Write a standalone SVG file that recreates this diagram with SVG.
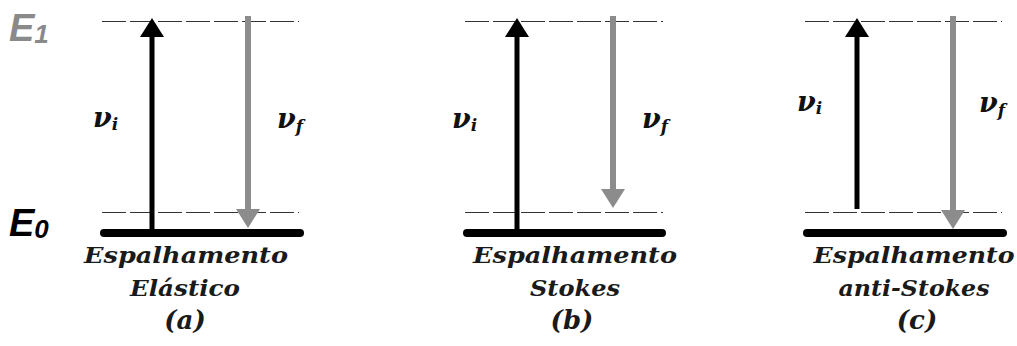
<svg xmlns="http://www.w3.org/2000/svg" width="1017" height="346" viewBox="0 0 1017 346">
<style>
.lvl{stroke:#333;stroke-width:1;stroke-dasharray:24 4;fill:none}
.bar{stroke:#000;stroke-width:8;stroke-linecap:round;fill:none}
.up{stroke:#000;stroke-width:5;fill:none}
.dn{stroke:#8c8c8c;stroke-width:6;fill:none}
.nu{font-family:"DejaVu Serif",serif;font-style:italic;font-weight:bold;font-size:27px;fill:#111}
.sub{font-size:17px}
.cap{font-family:"DejaVu Serif",serif;font-style:italic;font-weight:bold;font-size:22px;fill:#1a1a1a;text-anchor:middle}
.par{font-size:26px}
.en{font-family:"Liberation Sans",sans-serif;font-style:italic;font-weight:bold;font-size:38px}
</style>
<defs>
<marker id="hb" markerUnits="userSpaceOnUse" markerWidth="20" markerHeight="24" refX="0" refY="12" orient="auto" viewBox="0 0 20 24"><path d="M0,0 L19,12 L0,24 z" fill="#000"/></marker>
<marker id="hg" markerUnits="userSpaceOnUse" markerWidth="20" markerHeight="24" refX="0" refY="12" orient="auto" viewBox="0 0 20 24"><path d="M0,0 L19,12 L0,24 z" fill="#8c8c8c"/></marker>
</defs>
<rect width="1017" height="346" fill="#fff"/>
<g id="energy-labels">
<text class="en" x="9" y="41" fill="#8a8a8a">E<tspan font-size="26" dy="2">1</tspan></text>
<text class="en" x="9" y="236" fill="#000">E<tspan font-size="26" dy="2">0</tspan></text>
</g>
<g id="panel-a">
<line class="lvl" x1="102" y1="21.5" x2="299" y2="21.5"/>
<line class="lvl" x1="102" y1="212.5" x2="299" y2="212.5"/>
<line class="bar" x1="104" y1="233" x2="300" y2="233"/>
<text class="nu" x="93" y="127">ν<tspan class="sub" dy="3">i</tspan></text>
<text class="nu" x="277" y="128">ν<tspan class="sub" dy="4">f</tspan></text>
<text class="cap" x="186" y="263" textLength="204" lengthAdjust="spacingAndGlyphs">Espalhamento</text>
<text class="cap" x="185" y="296" textLength="110" lengthAdjust="spacingAndGlyphs">Elástico</text>
<text class="cap par" x="185" y="329">(a)</text>
</g>
<g id="panel-b">
<line class="lvl" x1="465" y1="21.5" x2="663" y2="21.5"/>
<line class="lvl" x1="465" y1="212.5" x2="663" y2="212.5"/>
<line class="bar" x1="467" y1="233" x2="662" y2="233"/>
<text class="nu" x="452" y="128">ν<tspan class="sub" dy="3">i</tspan></text>
<text class="nu" x="642" y="128">ν<tspan class="sub" dy="4">f</tspan></text>
<text class="cap" x="575" y="263" textLength="204" lengthAdjust="spacingAndGlyphs">Espalhamento</text>
<text class="cap" x="575" y="296" textLength="90" lengthAdjust="spacingAndGlyphs">Stokes</text>
<text class="cap par" x="572" y="329">(b)</text>
</g>
<g id="panel-c">
<line class="lvl" x1="805" y1="21.5" x2="1002" y2="21.5"/>
<line class="lvl" x1="805" y1="212.5" x2="1002" y2="212.5"/>
<line class="bar" x1="807" y1="233" x2="1003" y2="233"/>
<text class="nu" x="797" y="111">ν<tspan class="sub" dy="3">i</tspan></text>
<text class="nu" x="979" y="112">ν<tspan class="sub" dy="4">f</tspan></text>
<text class="cap" x="914" y="263" textLength="201" lengthAdjust="spacingAndGlyphs">Espalhamento</text>
<text class="cap" x="914" y="296" textLength="151" lengthAdjust="spacingAndGlyphs">anti-Stokes</text>
<text class="cap par" x="917" y="329">(c)</text>
</g>
<g id="connectors">
<line class="up" x1="152" y1="233" x2="152" y2="37" marker-end="url(#hb)"/>
<line class="dn" x1="248" y1="16" x2="248" y2="209" marker-end="url(#hg)"/>
<line class="up" x1="517" y1="233" x2="517" y2="37" marker-end="url(#hb)"/>
<line class="dn" x1="613" y1="16" x2="613" y2="189" marker-end="url(#hg)"/>
<line class="up" x1="857" y1="209" x2="857" y2="37" marker-end="url(#hb)"/>
<line class="dn" x1="953" y1="16" x2="953" y2="210" marker-end="url(#hg)"/>
</g>
</svg>
